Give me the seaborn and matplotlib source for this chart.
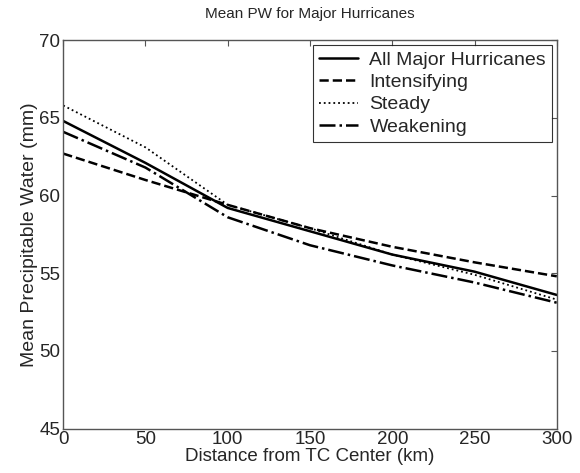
import matplotlib
matplotlib.use("Agg")
import matplotlib.pyplot as plt
import seaborn as sns
import pandas as pd

# Distance from TC center (km) and mean precipitable water (mm)
distance = [0, 50, 100, 150, 200, 250, 300]
all_major = [64.8, 62.1, 59.2, 57.7, 56.2, 55.1, 53.6]
intensifying = [62.7, 61.0, 59.4, 57.9, 56.7, 55.7, 54.8]
steady = [65.8, 63.1, 59.4, 57.9, 56.2, 54.9, 53.3]
weakening = [64.1, 61.8, 58.6, 56.8, 55.5, 54.4, 53.1]

series_names = ["All Major Hurricanes", "Intensifying", "Steady", "Weakening"]
series_values = [all_major, intensifying, steady, weakening]
dash_styles = ["-", "--", ":", "-."]

sns.set_style("white")
plt.rcParams["font.family"] = ["Liberation Sans", "DejaVu Sans"]

fig = plt.figure(figsize=(5.8, 4.73), dpi=100)
ax = fig.add_axes([0.109, 0.094, 0.851, 0.821])

for name, vals, ls in zip(series_names, series_values, dash_styles):
    df = pd.DataFrame({"distance": distance, "pw": vals})
    sns.lineplot(data=df, x="distance", y="pw", ax=ax, color="black",
                 linestyle=ls, linewidth=1.8 if ls != ":" else 1.3, label=name)

ax.set_xlim(0, 300)
ax.set_ylim(45, 70)
ax.set_xticks(range(0, 301, 50))
ax.set_yticks(range(45, 71, 5))
ax.tick_params(direction="in", top=True, right=True, labelsize=13.5, length=4,
               color="#555555")
ax.tick_params(axis="x", pad=2)
ax.tick_params(axis="y", pad=2)
for sp in ax.spines.values():
    sp.set_color("#555555")
    sp.set_linewidth(1.0)

ax.set_xlabel("Distance from TC Center (km)", fontsize=13.5, labelpad=0)
ax.set_ylabel("Mean Precipitable Water (mm)", fontsize=14, labelpad=1)
ax.set_title("Mean PW for Major Hurricanes", fontsize=11, pad=16)

leg = ax.legend(loc="upper right", fontsize=14, frameon=True, fancybox=False,
                borderaxespad=0.25, handlelength=2.0, labelspacing=0.25,
                borderpad=0.3, handletextpad=0.6)
leg.get_frame().set_edgecolor("black")
leg.get_frame().set_linewidth(0.8)

fig.savefig("out.png", dpi=100)
